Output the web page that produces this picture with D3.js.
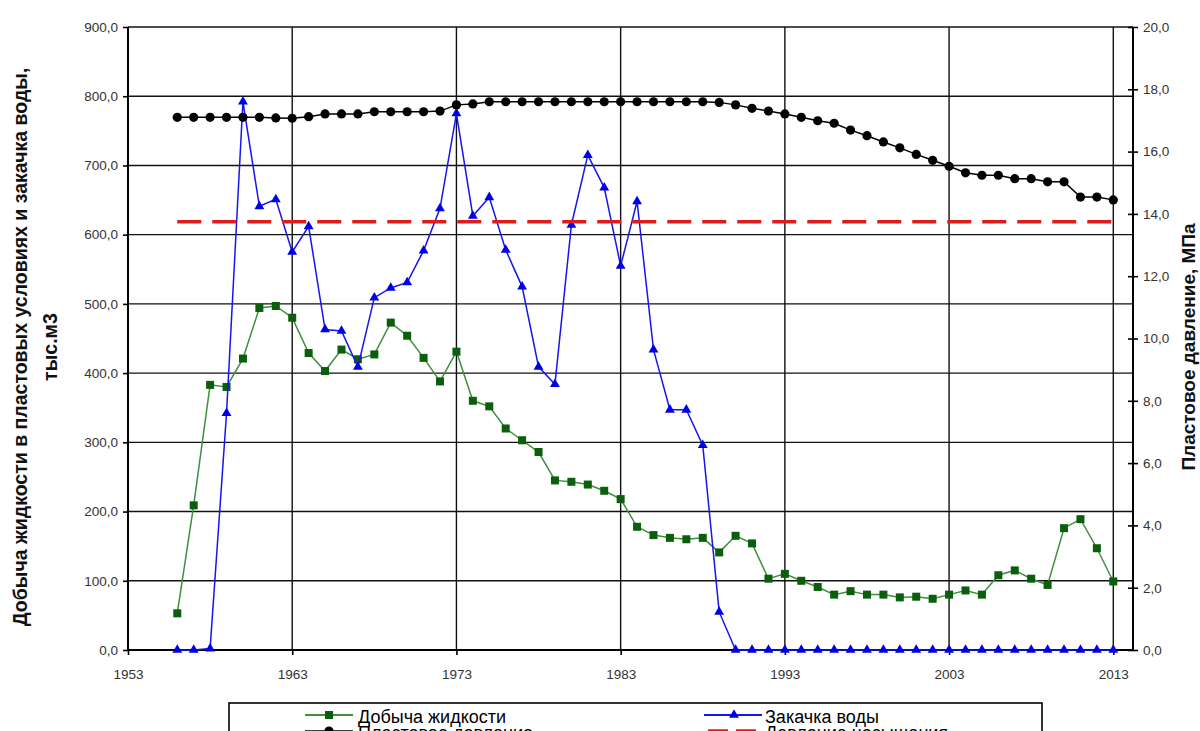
<!DOCTYPE html>
<html>
<head>
<meta charset="utf-8">
<script src="https://cdn.jsdelivr.net/npm/d3@7"></script>
<style>
  html, body { margin: 0; padding: 0; background: #fff; overflow: hidden; }
  svg { display: block; }
  text { font-family: "Liberation Sans", Arial, sans-serif; }
</style>
</head>
<body>
<svg id="chart" width="1200" height="731"></svg>
<script>
// ---------- DATA ----------
const years = [1956,1957,1958,1959,1960,1961,1962,1963,1964,1965,
               1966,1967,1968,1969,1970,1971,1972,1973,1974,1975,
               1976,1977,1978,1979,1980,1981,1982,1983,1984,1985,
               1986,1987,1988,1989,1990,1991,1992,1993,1994,1995,
               1996,1997,1998,1999,2000,2001,2002,2003,2004,2005,
               2006,2007,2008,2009,2010,2011,2012,2013];

// Добыча жидкости, тыс.м3 (left axis)
const liquidProduction = [53,209,383,380,421,494,497,480,429,403,
                          434,420,427,473,454,422,388,431,360,352,
                          320,303,286,245,243,239,230,218,178,166,
                          162,160,162,141,165,154,103,110,100,91,
                          80,85,80,80,76,77,74,80,86,80,
                          108,115,103,94,176,189,147,99];

// Закачка воды, тыс.м3 (left axis)
const waterInjection = [0,0,2,342,792,641,651,575,612,463,
                        461,409,509,523,531,577,638,775,627,654,
                        578,525,409,384,614,715,668,555,648,434,
                        347,347,296,55,0,0,0,0,0,0,
                        0,0,0,0,0,0,0,0,0,0,
                        0,0,0,0,0,0,0,0];

// Пластовое давление, МПа (right axis)
const reservoirPressure = [17.10,17.10,17.10,17.10,17.10,17.10,17.08,17.07,17.12,17.21,
                           17.21,17.21,17.28,17.28,17.28,17.28,17.30,17.50,17.53,17.60,
                           17.60,17.60,17.60,17.60,17.60,17.60,17.60,17.60,17.60,17.60,
                           17.60,17.60,17.60,17.58,17.50,17.39,17.30,17.21,17.10,16.99,
                           16.91,16.69,16.51,16.31,16.12,15.91,15.72,15.53,15.32,15.24,
                           15.24,15.13,15.13,15.03,15.03,14.54,14.54,14.45];

// Давление насыщения, МПа (right axis)
const saturationYears = [1956, 2013];
const saturationPressure = [13.75, 13.75];

// Axis ticks
const xTicks = [1953,1963,1973,1983,1993,2003,2013];
const yLeftTicks = [0,100,200,300,400,500,600,700,800,900];
const yRightTicks = [0,2,4,6,8,10,12,14,16,18,20];

const leftTitle1 = "Добыча жидкости в пластовых условиях и закачка воды,";
const leftTitle2 = "тыс.м3";
const rightTitle = "Пластовое давление, МПа";
const legendItems = ["Добыча жидкости", "Закачка воды", "Пластовое давление", "Давление насыщения"];

// ---------- LAYOUT ----------
const svg = d3.select("#chart");
const L = 128, R = 1133, T = 27, B = 650;

const x = d3.scaleLinear().domain([1953, 2014.2]).range([L, R]);
const yL = d3.scaleLinear().domain([0, 900]).range([B, T]);
const yR = d3.scaleLinear().domain([0, 20]).range([B, T]);
const fmt = d => d3.format(".1f")(d).replace(".", ",");

// Gridlines
const grid = svg.append("g");
grid.selectAll("line.h").data(yLeftTicks.filter(d => d > 0)).join("line")
  .attr("x1", L).attr("x2", R).attr("y1", d => yL(d)).attr("y2", d => yL(d))
  .attr("stroke", "#111").attr("stroke-width", 1.4);
grid.selectAll("line.v").data(xTicks.filter(d => d > 1953)).join("line")
  .attr("x1", d => x(d)).attr("x2", d => x(d)).attr("y1", T).attr("y2", B)
  .attr("stroke", "#111").attr("stroke-width", 1.4);

// Axes
const axL = svg.append("g").attr("transform", `translate(${L},0)`)
  .call(d3.axisLeft(yL).tickValues(yLeftTicks).tickFormat(fmt).tickSize(5).tickPadding(5));
const axR = svg.append("g").attr("transform", `translate(${R},0)`)
  .call(d3.axisRight(yR).tickValues(yRightTicks).tickFormat(fmt).tickSize(5).tickPadding(5));
axR.selectAll(".tick line").attr("x1", -5).attr("x2", 5);
const axB = svg.append("g").attr("transform", `translate(0,${B})`)
  .call(d3.axisBottom(x).tickValues(xTicks).tickFormat(d3.format("d")).tickSize(5).tickPadding(14));

[axL, axR, axB].forEach(a => {
  a.select(".domain").attr("stroke", "#000").attr("stroke-width", 2);
  a.selectAll(".tick line").attr("stroke", "#000").attr("stroke-width", 1.6);
  a.selectAll("text").attr("font-size", 13.5).attr("fill", "#333")
    .attr("font-family", '"Liberation Sans", Arial, sans-serif');
});
axL.select(".domain").attr("d", `M0,${T}V${B}`);
axR.select(".domain").attr("d", `M0,${T}V${B}`);
axB.select(".domain").attr("d", `M${L},0H${R}`);

// Axis titles
svg.append("text")
  .attr("transform", `translate(27,347) rotate(-90)`)
  .attr("text-anchor", "middle").attr("font-weight", "bold").attr("font-size", 19.5)
  .attr("fill", "#111").text(leftTitle1);
svg.append("text")
  .attr("transform", `translate(57,347) rotate(-90)`)
  .attr("text-anchor", "middle").attr("font-weight", "bold").attr("font-size", 19.5)
  .attr("fill", "#111").text(leftTitle2);
svg.append("text")
  .attr("transform", `translate(1195,347) rotate(-90)`)
  .attr("text-anchor", "middle").attr("font-weight", "bold").attr("font-size", 19)
  .attr("fill", "#111").text(rightTitle);

// ---------- SERIES ----------
const greenLine = "#3f8f3f", greenMark = "#0b5e0b";
const blue = "#1515f0";
const red = "#dd1c1c";

const prod = years.map((y, i) => [y, liquidProduction[i]]);
const inj = years.map((y, i) => [y, waterInjection[i]]);
const pres = years.map((y, i) => [y, reservoirPressure[i]]);
const sat = saturationYears.map((y, i) => [y, saturationPressure[i]]);

const lineL = d3.line().x(d => x(d[0])).y(d => yL(d[1]));
const lineR = d3.line().x(d => x(d[0])).y(d => yR(d[1]));

// Production
svg.append("path").datum(prod).attr("d", lineL)
  .attr("fill", "none").attr("stroke", greenLine).attr("stroke-width", 1.5);
svg.append("g").selectAll("rect").data(prod).join("rect")
  .attr("x", d => x(d[0]) - 4).attr("y", d => yL(d[1]) - 4)
  .attr("width", 8).attr("height", 8).attr("fill", greenMark);

// Injection
const tri = d3.symbol().type(d3.symbolTriangle).size(42);
svg.append("path").datum(inj).attr("d", lineL)
  .attr("fill", "none").attr("stroke", blue).attr("stroke-width", 1.5);
svg.append("g").selectAll("path").data(inj).join("path")
  .attr("d", tri).attr("transform", d => `translate(${x(d[0])},${yL(d[1])})`)
  .attr("fill", "#0000e6");

// Reservoir pressure
svg.append("path").datum(pres).attr("d", lineR)
  .attr("fill", "none").attr("stroke", "#000").attr("stroke-width", 1.5);
svg.append("g").selectAll("circle").data(pres).join("circle")
  .attr("cx", d => x(d[0])).attr("cy", d => yR(d[1])).attr("r", 4.6).attr("fill", "#000");

// Saturation pressure
svg.append("path").datum(sat).attr("d", lineR)
  .attr("fill", "none").attr("stroke", red).attr("stroke-width", 3.5)
  .attr("stroke-dasharray", "24,11");

// ---------- LEGEND ----------
const lg = svg.append("g");
lg.append("rect").attr("x", 229).attr("y", 703).attr("width", 813).attr("height", 60)
  .attr("fill", "#fff").attr("stroke", "#000").attr("stroke-width", 1.6);

const rows = [715, 731], base = [723, 738.5];
// green
lg.append("line").attr("x1", 305).attr("x2", 353).attr("y1", rows[0]).attr("y2", rows[0])
  .attr("stroke", greenLine).attr("stroke-width", 2);
lg.append("rect").attr("x", 325).attr("y", rows[0] - 4).attr("width", 8).attr("height", 8).attr("fill", greenMark);
// blue
lg.append("line").attr("x1", 704).attr("x2", 762).attr("y1", rows[0]).attr("y2", rows[0])
  .attr("stroke", blue).attr("stroke-width", 2);
lg.append("path").attr("d", tri).attr("transform", `translate(734,${rows[0]})`).attr("fill", "#0000e6");
// black
lg.append("line").attr("x1", 305).attr("x2", 353).attr("y1", rows[1]).attr("y2", rows[1])
  .attr("stroke", "#000").attr("stroke-width", 1.5);
lg.append("circle").attr("cx", 329).attr("cy", rows[1]).attr("r", 4.6).attr("fill", "#000");
// red
lg.append("line").attr("x1", 708).attr("x2", 760).attr("y1", rows[1]).attr("y2", rows[1])
  .attr("stroke", red).attr("stroke-width", 3.5).attr("stroke-dasharray", "20,8");

const lx = [358, 765, 358, 765], ly = [base[0], base[0], base[1], base[1]];
lg.selectAll("text").data(legendItems).join("text")
  .attr("x", (d, i) => lx[i]).attr("y", (d, i) => ly[i])
  .attr("font-size", 18).attr("fill", "#000").text(d => d);
</script>
</body>
</html>
